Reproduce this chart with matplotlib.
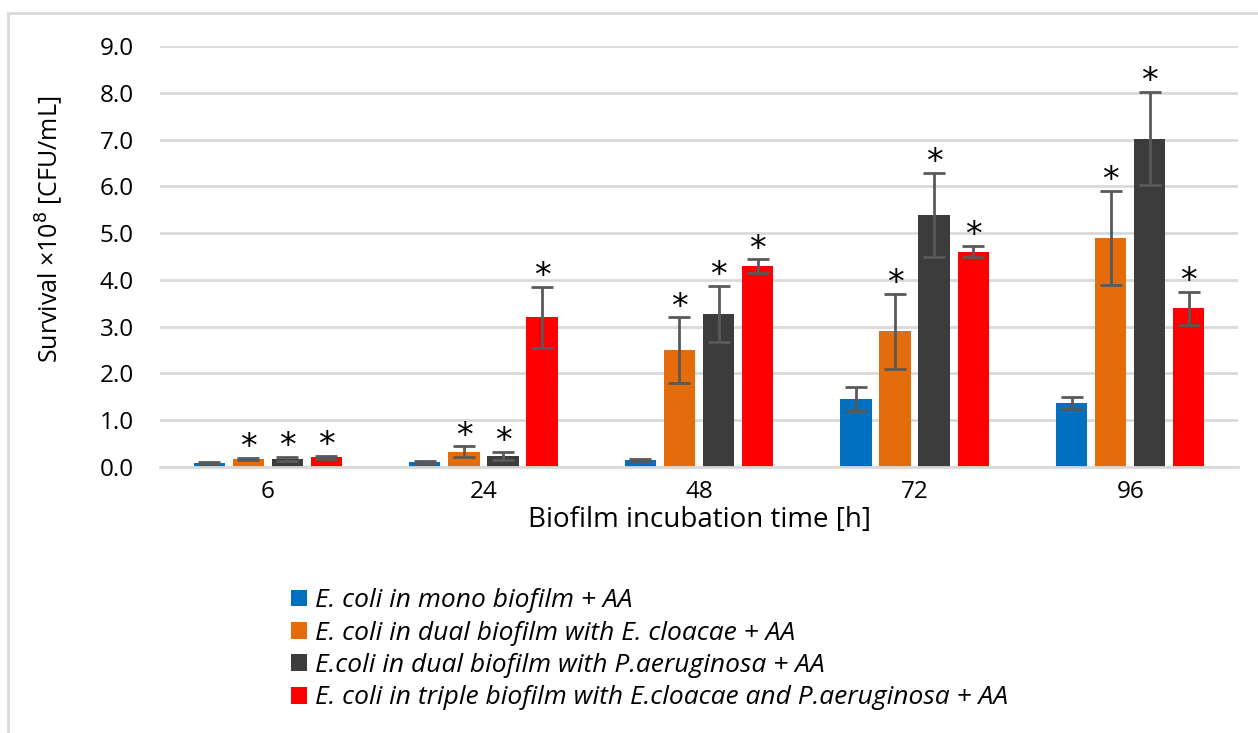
import numpy as np
import matplotlib.pyplot as plt
from matplotlib.patches import Rectangle

plt.rcParams['font.family'] = ['Open Sans', 'DejaVu Sans']

# Data
times = ["6", "24", "48", "72", "96"]
series = [
    "E. coli in mono biofilm + AA",
    "E. coli in dual biofilm with E. cloacae + AA",
    "E.coli in dual biofilm with P.aeruginosa + AA",
    "E. coli in triple biofilm with E.cloacae and P.aeruginosa + AA",
]
mono = [0.08, 0.10, 0.15, 1.45, 1.36]
mono_err = [0.02, 0.03, 0.03, 0.26, 0.13]
dual_ecl = [0.18, 0.33, 2.50, 2.90, 4.90]
dual_ecl_err = [0.02, 0.11, 0.70, 0.80, 1.00]
dual_pae = [0.17, 0.23, 3.27, 5.38, 7.02]
dual_pae_err = [0.05, 0.09, 0.60, 0.90, 1.00]
triple = [0.21, 3.20, 4.29, 4.60, 3.39]
triple_err = [0.03, 0.65, 0.15, 0.12, 0.36]
# significance markers (1 = asterisk drawn above the bar)
mono_sig = [0, 0, 0, 0, 0]
dual_ecl_sig = [1, 1, 1, 1, 1]
dual_pae_sig = [1, 1, 1, 1, 1]
triple_sig = [1, 1, 1, 1, 1]

values = [mono, dual_ecl, dual_pae, triple]
errors = [mono_err, dual_ecl_err, dual_pae_err, triple_err]
sigs = [mono_sig, dual_ecl_sig, dual_pae_sig, triple_sig]
colors = ["#0070C0", "#E46C0A", "#3C3C3C", "#FF0000"]

fig = plt.figure(figsize=(12.58, 7.33), dpi=100)
ax = fig.add_axes([160 / 1258, 1 - 467 / 733, 1078 / 1258, 421 / 733])

x = np.arange(len(times))
pitch = 0.181
width = 0.145
for i, (vals, errs, sig, col) in enumerate(zip(values, errors, sigs, colors)):
    pos = x + (i - 1.5) * pitch
    ax.bar(pos, vals, width=width, color=col, label=series[i], zorder=2)
    ax.errorbar(pos, vals, yerr=errs, fmt="none", ecolor="#595959",
                elinewidth=2, capsize=8, capthick=2, zorder=3)
    for p, v, e, s in zip(pos, vals, errs, sig):
        if s:
            ax.text(p, v + e + 0.22, "*", ha="center", va="center",
                    fontsize=24, color="black", family="DejaVu Sans")

ax.set_xlim(-0.5, len(times) - 0.5)
ax.set_ylim(0, 9)
ax.set_yticks(np.arange(0, 9.5, 1.0))
ax.set_yticklabels([f"{v:.1f}" for v in np.arange(0, 9.5, 1.0)])
ax.set_xticks(x)
ax.set_xticklabels(times)
ax.tick_params(axis="both", length=0, labelsize=17.5, colors="black")
ax.tick_params(axis="y", pad=19)
ax.tick_params(axis="x", pad=9)
ax.yaxis.grid(True, color="#D9D9D9", linewidth=2, zorder=0)
ax.set_axisbelow(True)
for side in ["top", "right", "left"]:
    ax.spines[side].set_visible(False)
ax.spines["bottom"].set_color("#D9D9D9")
ax.spines["bottom"].set_linewidth(2)

ax.set_ylabel("Survival ×10$^{8}$ [CFU/mL]", fontsize=18)
ax.yaxis.set_label_coords(-0.088, 0.565)
ax.set_xlabel("Biofilm incubation time [h]", fontsize=20, labelpad=2)

handles, labels = ax.get_legend_handles_labels()
leg = fig.legend(handles, labels, loc="upper left",
                 bbox_to_anchor=(286 / 1258, 1 - 583 / 733), frameon=False,
                 prop={"size": 19, "style": "italic"}, handlelength=0.6,
                 handleheight=0.6, handletextpad=0.3, labelspacing=0.28,
                 borderaxespad=0, borderpad=0.2)

# outer chart border
fig.patches.append(Rectangle((8 / 1258, -0.1), 1.2, 1 - 13 / 733 + 0.1,
                             transform=fig.transFigure, fill=False,
                             edgecolor="#D9D9D9", linewidth=2))

fig.savefig("out.png", dpi=100, facecolor="white")
